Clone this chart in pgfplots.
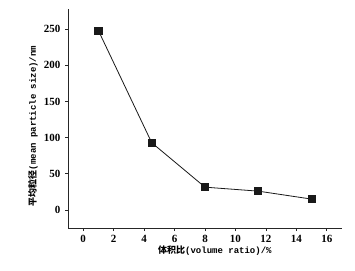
\documentclass[border=0pt]{standalone}
\usepackage{fontspec}
\setmainfont{Liberation Serif}
\setmonofont{Liberation Mono}
\newfontfamily\cjk{Noto Sans CJK SC}
\usepackage{pgfplots}
\pgfplotsset{compat=1.18}
\begin{document}
\begin{tikzpicture}
\begin{axis}[
  scale only axis,
  width=274pt, height=219pt,
  xmin=-1, xmax=17, ymin=-25, ymax=278,
  axis lines=left,
  axis line style={-, line width=0.8pt, black!85},
  tick align=outside,
  major tick length=3pt,
  tick style={line width=0.7pt, black!85},
  xtick={0,2,4,6,8,10,12,14,16},
  ytick={0,50,100,150,200,250},
  /pgf/number format/assume math mode=true,
  tick label style={font=\fontsize{11}{13}\selectfont\bfseries},
  xticklabel style={yshift=-1pt},
  yticklabel style={xshift=-1pt},
  every axis x label/.style={at={(rel axis cs:0.536,-0.105)}, anchor=center},
  every axis y label/.style={at={(rel axis cs:-0.128,0.466)}, rotate=90, anchor=center},
  xlabel={\fontsize{9}{11}\selectfont{\cjk\bfseries 体积比}\ttfamily\bfseries(volume ratio)/\%},
  ylabel={\fontsize{9}{11}\selectfont{\cjk\bfseries 平均粒径}\ttfamily\bfseries(mean particle size)/nm},
  clip=false,
]
\addplot[black!90, line width=0.8pt, mark=square*, mark size=3.6pt, mark options={solid, fill=black!90, draw=black!90}]
  coordinates {(1,248) (4.5,93) (8,31.5) (11.5,26) (15,15)};
\coordinate (O) at (rel axis cs:0,0);
\coordinate (T) at (rel axis cs:1,1);
\end{axis}
\pgfresetboundingbox
\path (O) ++(-68pt,-42pt) coordinate (A);
\path (T) ++(13pt,9pt) coordinate (B);
\path (A) rectangle (B);
\end{tikzpicture}
\end{document}
